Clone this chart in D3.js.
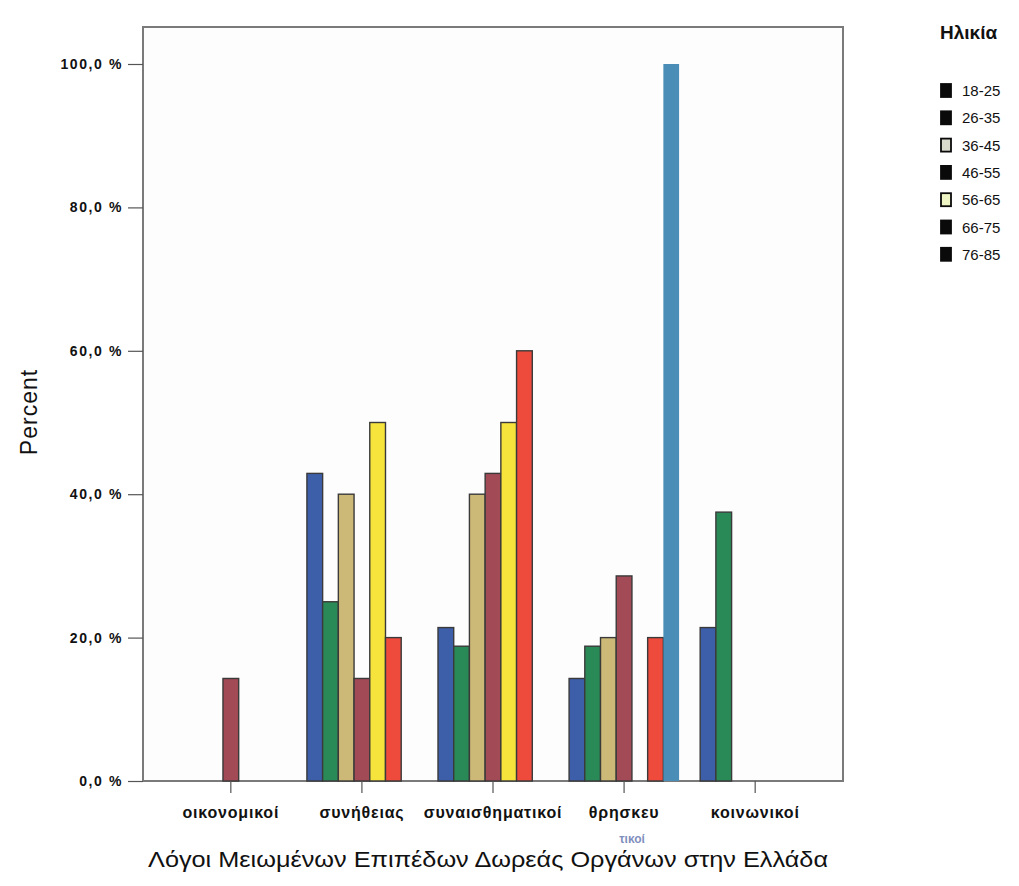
<!DOCTYPE html>
<html>
<head>
<meta charset="utf-8">
<script src="https://cdn.jsdelivr.net/npm/d3@7"></script>
<style>
  html, body { margin: 0; padding: 0; background: #fff; }
  svg { display: block; }
</style>
</head>
<body>
<svg id="chart" width="1019" height="886"></svg>
<script>
// Reasons for reduced organ donation in Greece, by age group (percent)
const categories = ["οικονομικοί", "συνήθειας", "συναισθηματικοί", "θρησκευτικοί", "κοινωνικοί"];
const ageGroups = ["18-25", "26-35", "36-45", "46-55", "56-65", "66-75", "76-85"];

// One array per age group, values in the order of `categories`
const age18_25 = [0, 42.9, 21.4, 14.3, 21.4];
const age26_35 = [0, 25.0, 18.8, 18.8, 37.5];
const age36_45 = [0, 40.0, 40.0, 20.0, 0];
const age46_55 = [14.3, 14.3, 42.9, 28.6, 0];
const age56_65 = [0, 50.0, 50.0, 0, 0];
const age66_75 = [0, 20.0, 60.0, 20.0, 0];
const age76_85 = [0, 0, 0, 100.0, 0];

const yTicks = [0, 20, 40, 60, 80, 100];

const seriesValues = [age18_25, age26_35, age36_45, age46_55, age56_65, age66_75, age76_85];
const colors = ["#3d5ea9", "#2a8a57", "#cdb977", "#a24a56", "#f6e43c", "#ef4b3d", "#4a8db6"];
// Legend swatches as printed (dark, with the two light ones outlined)
const swatchFill = ["#0a0a0a", "#0a0a0a", "#d9d9cc", "#0a0a0a", "#eef4c4", "#0a0a0a", "#0a0a0a"];

const FONT = "'Liberation Sans', Arial, sans-serif";
const svg = d3.select("#chart");
const plot = { left: 143, top: 27, right: 843, bottom: 781 };

const x0 = d3.scaleBand()
  .domain(categories)
  .range([plot.left, plot.right])
  .paddingInner(0)
  .paddingOuter(0.17);

const groupWidth = 110;
const x1 = d3.scaleBand()
  .domain(ageGroups)
  .range([0, groupWidth]);

const y = d3.scaleLinear().domain([0, 100]).range([plot.bottom, 64]);

// Plot frame
svg.append("rect")
  .attr("x", plot.left).attr("y", plot.top)
  .attr("width", plot.right - plot.left).attr("height", plot.bottom - plot.top)
  .attr("fill", "#fdfdfd")
  .attr("stroke", "#7a7a7a").attr("stroke-width", 2);

// Bars
const groups = svg.append("g").selectAll("g")
  .data(categories)
  .join("g")
  .attr("transform", c => `translate(${x0(c) + x0.bandwidth() / 2 - groupWidth / 2},0)`);

groups.selectAll("rect")
  .data((c, ci) => ageGroups.map((a, ai) => ({ age: a, ai, v: seriesValues[ai][ci] })).filter(d => d.v > 0))
  .join("rect")
  .attr("x", d => x1(d.age))
  .attr("width", x1.bandwidth())
  .attr("y", d => y(d.v))
  .attr("height", d => y(0) - y(d.v))
  .attr("fill", d => colors[d.ai])
  .attr("stroke", d => d.ai === 6 ? "none" : "#3a3a3a")
  .attr("stroke-width", 1.4);

// Y axis
const yAxis = d3.axisLeft(y)
  .tickValues(yTicks)
  .tickSize(15)
  .tickPadding(5)
  .tickFormat(d => d.toFixed(1).replace(".", ",") + " %");

const gy = svg.append("g")
  .attr("transform", `translate(${plot.left},0)`)
  .call(yAxis);
gy.select(".domain").remove();
gy.selectAll(".tick line").attr("stroke", "#555").attr("stroke-width", 1.2);
gy.selectAll(".tick text")
  .attr("fill", "#111")
  .style("font-family", FONT)
  .style("font-size", "14px")
  .style("font-weight", "bold")
  .style("letter-spacing", "1.6px");

// X axis
const xAxis = d3.axisBottom(x0).tickSize(12).tickPadding(14);
const gx = svg.append("g")
  .attr("transform", `translate(0,${plot.bottom})`)
  .call(xAxis);
gx.select(".domain").remove();
gx.selectAll(".tick line").attr("stroke", "#555").attr("stroke-width", 1.2);
gx.selectAll(".tick text")
  .attr("fill", "#111")
  .style("font-family", FONT)
  .style("font-size", "16px")
  .style("font-weight", "bold")
  .style("letter-spacing", "0.8px")
  .text(d => d === "θρησκευτικοί" ? "θρησκευ" : d);

// Wrapped remainder of the religious-reasons label
gx.selectAll(".tick")
  .filter(d => d === "θρησκευτικοί")
  .append("text")
  .attr("y", 62)
  .attr("x", 8)
  .attr("text-anchor", "middle")
  .attr("fill", "#7f8fbd")
  .style("font-family", FONT)
  .style("font-size", "12px")
  .style("font-weight", "bold")
  .text("τικοί");

// Axis titles
svg.append("text")
  .attr("x", 488).attr("y", 867)
  .attr("text-anchor", "middle")
  .attr("fill", "#111")
  .attr("textLength", 680)
  .attr("lengthAdjust", "spacingAndGlyphs")
  .style("font-family", FONT)
  .style("font-size", "22px")
  .text("Λόγοι Μειωμένων Επιπέδων Δωρεάς Οργάνων στην Ελλάδα");

svg.append("text")
  .attr("transform", "translate(37,412) rotate(-90)")
  .attr("text-anchor", "middle")
  .attr("fill", "#111")
  .style("font-family", FONT)
  .style("font-size", "23px")
  .style("letter-spacing", "1px")
  .text("Percent");

// Legend
const legend = svg.append("g").attr("transform", "translate(940,0)");
legend.append("text")
  .attr("x", 0).attr("y", 39)
  .attr("fill", "#111")
  .style("font-family", FONT)
  .style("font-size", "19px")
  .style("font-weight", "bold")
  .text("Ηλικία");

const items = legend.selectAll("g.item")
  .data(ageGroups)
  .join("g")
  .attr("class", "item")
  .attr("transform", (d, i) => `translate(0,${84 + i * 27.3})`);

items.append("rect")
  .attr("x", 1).attr("y", 0)
  .attr("width", 10).attr("height", 13)
  .attr("fill", (d, i) => swatchFill[i])
  .attr("stroke", "#0a0a0a").attr("stroke-width", 1.8);

items.append("text")
  .attr("x", 22).attr("y", 12)
  .attr("fill", "#111")
  .style("font-family", FONT)
  .style("font-size", "15px")
  .text(d => d);
</script>
</body>
</html>
